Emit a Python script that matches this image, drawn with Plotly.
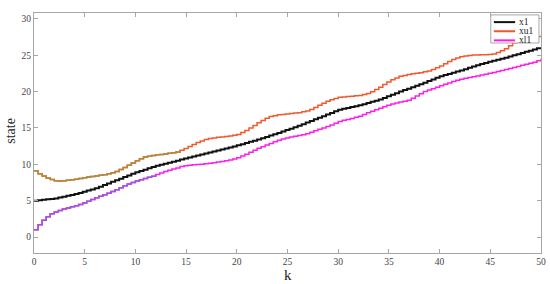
"""Stair plot of state x1 with upper/lower bounds xu1, xl1 over k"""

import plotly.graph_objects as go

# sample instants (step 0.4, 0 .. 50)
k = [round(0.4 * i, 1) for i in range(126)]

x1 = [5.00, 5.06, 5.12, 5.18, 5.24, 5.30, 5.42, 5.54, 5.66, 5.78,
      5.90, 6.06, 6.22, 6.38, 6.54, 6.70, 6.92, 7.14, 7.36, 7.58,
      7.80, 8.02, 8.24, 8.46, 8.68, 8.90, 9.08, 9.26, 9.44, 9.62,
      9.80, 9.94, 10.08, 10.22, 10.36, 10.50, 10.64, 10.78, 10.92, 11.06,
      11.20, 11.34, 11.48, 11.62, 11.76, 11.90, 12.04, 12.18, 12.32, 12.46,
      12.60, 12.76, 12.92, 13.08, 13.24, 13.40, 13.58, 13.76, 13.94, 14.12,
      14.30, 14.50, 14.70, 14.90, 15.10, 15.30, 15.52, 15.74, 15.96, 16.18,
      16.40, 16.62, 16.84, 17.06, 17.28, 17.50, 17.62, 17.74, 17.86, 17.98,
      18.10, 18.26, 18.42, 18.58, 18.74, 18.90, 19.12, 19.34, 19.56, 19.78,
      20.00, 20.20, 20.40, 20.60, 20.80, 21.00, 21.22, 21.44, 21.66, 21.88,
      22.10, 22.26, 22.42, 22.58, 22.74, 22.90, 23.08, 23.26, 23.44, 23.62,
      23.80, 23.94, 24.08, 24.22, 24.36, 24.50, 24.66, 24.82, 24.98, 25.14,
      25.30, 25.46, 25.62, 25.78, 25.94, 26.10]

xu1 = [9.10, 8.70, 8.40, 8.10, 7.90, 7.75, 7.70, 7.72, 7.79, 7.87,
       7.95, 8.05, 8.15, 8.24, 8.32, 8.40, 8.48, 8.56, 8.68, 8.84,
       9.00, 9.28, 9.56, 9.86, 10.18, 10.50, 10.75, 11.00, 11.10, 11.20,
       11.30, 11.36, 11.42, 11.50, 11.60, 11.70, 11.94, 12.18, 12.44, 12.72,
       13.00, 13.20, 13.40, 13.54, 13.62, 13.70, 13.76, 13.82, 13.90, 14.00,
       14.10, 14.38, 14.66, 14.98, 15.34, 15.70, 16.02, 16.34, 16.56, 16.68,
       16.80, 16.86, 16.92, 16.98, 17.04, 17.10, 17.22, 17.34, 17.54, 17.82,
       18.10, 18.38, 18.66, 18.88, 19.04, 19.20, 19.26, 19.32, 19.37, 19.41,
       19.45, 19.59, 19.73, 19.96, 20.28, 20.60, 20.96, 21.32, 21.62, 21.86,
       22.10, 22.22, 22.34, 22.44, 22.52, 22.60, 22.72, 22.84, 23.02, 23.26,
       23.50, 23.82, 24.14, 24.40, 24.60, 24.80, 24.88, 24.96, 25.01, 25.03,
       25.05, 25.07, 25.09, 25.16, 25.36, 25.60, 25.90, 26.30, 26.70, 27.10,
       27.40, 27.45, 27.48, 27.52, 27.56, 27.60]

xl1 = [1.00, 1.70, 2.30, 2.80, 3.20, 3.45, 3.65, 3.85, 4.00, 4.15,
       4.30, 4.48, 4.66, 4.90, 5.16, 5.40, 5.60, 5.80, 6.02, 6.26,
       6.50, 6.78, 7.06, 7.30, 7.50, 7.70, 7.87, 8.04, 8.20, 8.37,
       8.60, 8.80, 9.00, 9.18, 9.34, 9.50, 9.68, 9.80, 9.87, 9.92,
       9.97, 10.01, 10.07, 10.14, 10.22, 10.30, 10.38, 10.48, 10.58, 10.74,
       10.90, 11.14, 11.38, 11.64, 11.92, 12.20, 12.42, 12.64, 12.86, 13.10,
       13.30, 13.46, 13.62, 13.75, 13.86, 13.96, 14.06, 14.20, 14.40, 14.60,
       14.80, 15.00, 15.20, 15.40, 15.64, 15.88, 16.04, 16.16, 16.30, 16.45,
       16.60, 16.84, 17.08, 17.30, 17.50, 17.70, 17.90, 18.10, 18.28, 18.42,
       18.56, 18.68, 18.80, 19.08, 19.38, 19.70, 20.00, 20.20, 20.40, 20.60,
       20.80, 20.99, 21.18, 21.37, 21.56, 21.70, 21.82, 21.94, 22.04, 22.14,
       22.26, 22.38, 22.50, 22.62, 22.76, 22.90, 23.04, 23.18, 23.32, 23.46,
       23.60, 23.74, 23.88, 24.04, 24.24, 24.50]

x_ticks = [0, 5, 10, 15, 20, 25, 30, 35, 40, 45, 50]
y_ticks = [0, 5, 10, 15, 20, 25, 30]

names = ['x1', 'xu1', 'xl1']
colors = ['#111111', '#ee5a2c', '#ff1ee6']
widths = [2, 1.5, 1.5]

serif = "Liberation Serif, Times New Roman, serif"

fig = go.Figure()
for name, ys, c, w in zip(names, [x1, xu1, xl1], colors, widths):
    fig.add_trace(go.Scatter(x=k, y=ys, mode='lines', name=name, line_shape='hv',
                             line=dict(color=c, width=w), showlegend=False))

# early parts of the bounds look tinted in the original
n_u, n_l = 37, 31
fig.add_trace(go.Scatter(x=k[:n_u], y=xu1[:n_u], mode='lines', showlegend=False,
                         line_shape='hv', line=dict(color='#b08a3c', width=1.5)))
fig.add_trace(go.Scatter(x=k[:n_l], y=xl1[:n_l], mode='lines', showlegend=False,
                         line_shape='hv', line=dict(color='#9a55dc', width=1.5)))

axis_common = dict(showgrid=False, zeroline=False, showline=True, mirror='ticks',
                   linecolor='#a6a6a6', linewidth=1, ticks='inside', ticklen=4,
                   tickcolor='#a6a6a6', automargin=False,
                   tickfont=dict(family=serif, size=9.5, color='#444444'))

fig.update_layout(
    width=550, height=284,
    margin=dict(l=34, r=9, t=13, b=31),
    plot_bgcolor='white', paper_bgcolor='white',
    font=dict(family=serif),
    xaxis=dict(range=[0, 50], tickvals=x_ticks, **axis_common),
    yaxis=dict(range=[-2.2, 30.8], tickvals=y_ticks, **axis_common),
    showlegend=False,
)

# axis titles
fig.add_annotation(text='k', xref='paper', yref='paper', x=0.5, y=-0.09,
                   xanchor='center', yanchor='middle', showarrow=False,
                   font=dict(family=serif, size=15, color='#222222'))
fig.add_annotation(text='state', xref='paper', yref='paper', x=-0.047, y=0.51,
                   xanchor='center', yanchor='middle', showarrow=False, textangle=-90,
                   font=dict(family=serif, size=14, color='#222222'))

# compact legend box in the top right corner
fig.add_shape(type='rect', xref='paper', yref='paper', x0=0.901, x1=0.996,
              y0=0.875, y1=0.992, line=dict(color='#a6a6a6', width=1),
              fillcolor='white', layer='above')
rows = [0.962, 0.924, 0.886]
for name, c, row in zip(names, colors, rows):
    fig.add_shape(type='line', xref='paper', yref='paper', x0=0.907, x1=0.949,
                  y0=row, y1=row, line=dict(color=c, width=2), layer='above')
    fig.add_annotation(text=name, xref='paper', yref='paper', x=0.953, y=row,
                       xanchor='left', yanchor='middle', showarrow=False,
                       font=dict(family=serif, size=9.5, color='#222222'))

# the page's default body margin would shift the 550x284 figure out of the window
fig.write_html("out.html", config={'displayModeBar': False},
               post_script="document.body.style.margin='0';")
